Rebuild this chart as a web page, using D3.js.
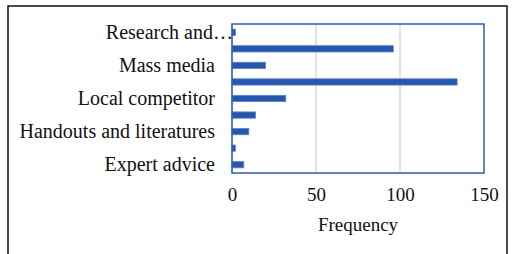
<!DOCTYPE html>
<html>
<head>
<meta charset="utf-8">
<script src="https://cdn.jsdelivr.net/npm/d3@7"></script>
<style>
  body { margin: 0; background: #fff; }
  svg { display: block; }
  text { font-family: "Liberation Serif", "Times New Roman", serif; fill: #111; }
</style>
</head>
<body>
<div id="chart"></div>
<script>
// categories top to bottom; only every other one gets a label in the original
var categories = ["Research and…", "Other source A", "Mass media", "Other source B", "Local competitor",
                  "Other source C", "Handouts and literatures", "Other source D", "Expert advice"];
var shownLabels = ["Research and…", "Mass media", "Local competitor", "Handouts and literatures", "Expert advice"];
var frequency = [2, 96, 20, 134, 32, 14, 10, 2, 7];
var xTicks = [0, 50, 100, 150];

function init() {
    var width = 513, height = 254;
    var plot = { left: 232, right: 484, top: 24, bottom: 173 };

    var svg = d3.select("#chart")
        .append("svg")
            .attr("width", width)
            .attr("height", height);

    // outer frame (only top, left, right edges are visible)
    svg.append("rect")
        .attr("x", 8).attr("y", 6)
        .attr("width", 499).attr("height", 260)
        .attr("fill", "none")
        .attr("stroke", "#111")
        .attr("stroke-width", 1.5);

    var xScale = d3.scaleLinear()
        .domain([0, 150])
        .range([plot.left, plot.right]);

    var yScale = d3.scaleBand()
        .domain(categories)
        .range([plot.top, plot.bottom])
        .paddingInner(0.62)
        .paddingOuter(0.31);

    // gridlines
    svg.append("g")
        .selectAll("line")
        .data(xTicks.slice(1, -1))
        .enter()
        .append("line")
            .attr("x1", function(d) { return xScale(d); })
            .attr("x2", function(d) { return xScale(d); })
            .attr("y1", plot.top)
            .attr("y2", plot.bottom)
            .attr("stroke", "#d0d0d0")
            .attr("stroke-width", 1.2);

    // left axis line
    svg.append("line")
        .attr("x1", xScale(0)).attr("x2", xScale(0))
        .attr("y1", plot.top).attr("y2", plot.bottom)
        .attr("stroke", "#d0d0d0")
        .attr("stroke-width", 1.2);

    // bars
    svg.append("g")
        .selectAll("rect")
        .data(frequency)
        .enter()
        .append("rect")
            .attr("x", xScale(0))
            .attr("y", function(d, i) { return yScale(categories[i]); })
            .attr("width", function(d) { return xScale(d) - xScale(0); })
            .attr("height", yScale.bandwidth())
            .attr("fill", "#2756ad")
            .attr("stroke", "#5b84cf")
            .attr("stroke-width", 0.8);

    // plot area border
    svg.append("rect")
        .attr("x", plot.left).attr("y", plot.top)
        .attr("width", plot.right - plot.left)
        .attr("height", plot.bottom - plot.top)
        .attr("fill", "none")
        .attr("stroke", "#2f5bb7")
        .attr("stroke-width", 1.5);

    // category labels
    var yAxis = d3.axisLeft(yScale)
        .tickValues(shownLabels)
        .tickSize(0)
        .tickPadding(17);
    var yg = svg.append("g")
        .attr("transform", "translate(" + plot.left + ",0)")
        .call(yAxis);
    yg.select(".domain").remove();
    yg.selectAll("text")
        .attr("font-size", 20)
        .attr("dx", function(d) { return d.slice(-1) === "…" ? 18 : 0; });

    // x axis labels
    var xAxis = d3.axisBottom(xScale)
        .tickValues(xTicks)
        .tickSize(0)
        .tickPadding(15);
    var xg = svg.append("g")
        .attr("transform", "translate(0," + plot.bottom + ")")
        .call(xAxis);
    xg.select(".domain").remove();
    xg.selectAll("text").attr("font-size", 19);

    svg.append("text")
        .attr("x", 358)
        .attr("y", 231)
        .attr("text-anchor", "middle")
        .attr("font-size", 19)
        .text("Frequency");
}

window.addEventListener("load", init);
</script>
</body>
</html>
